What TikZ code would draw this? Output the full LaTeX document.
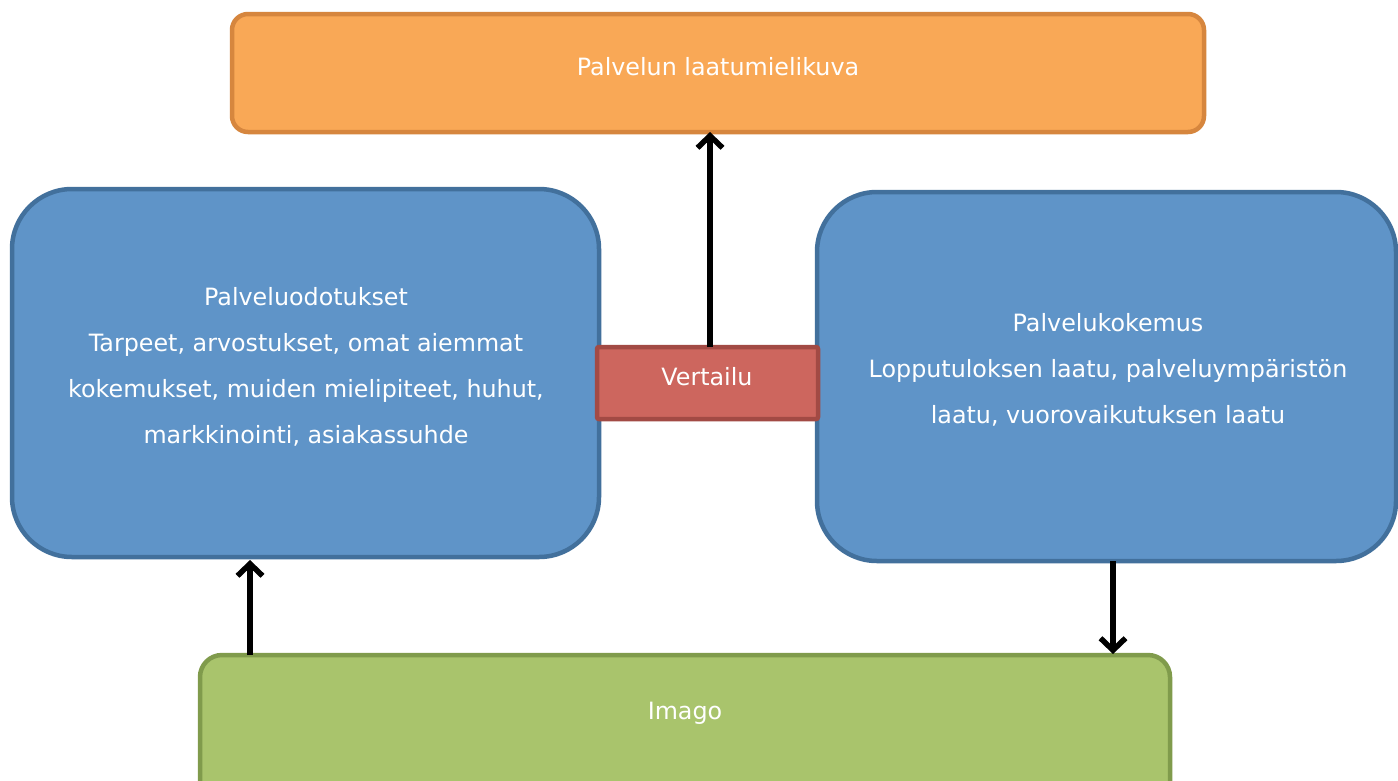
\documentclass[tikz,border=0pt]{standalone}
\usepackage{fontspec}
\setmainfont{DejaVu Sans}
\usetikzlibrary{arrows.meta}
\definecolor{orfill}{RGB}{249,168,86}
\definecolor{ordraw}{RGB}{214,134,62}
\definecolor{blfill}{RGB}{95,148,200}
\definecolor{bldraw}{RGB}{66,112,156}
\definecolor{rdfill}{RGB}{205,102,94}
\definecolor{rddraw}{RGB}{162,74,68}
\definecolor{grfill}{RGB}{169,196,108}
\definecolor{grdraw}{RGB}{128,155,76}
\tikzset{
  boxbase/.style={rectangle, line width=4.5pt, inner sep=0pt},
  orbox/.style={boxbase, fill=orfill, draw=ordraw, rounded corners=16pt},
  blbox/.style={boxbase, fill=blfill, draw=bldraw, rounded corners=60pt},
  rdbox/.style={boxbase, fill=rdfill, draw=rddraw, rounded corners=2pt},
  grbox/.style={boxbase, fill=grfill, draw=grdraw, rounded corners=22pt},
  lbl/.style={text=white, align=center, font=\fontsize{23.8}{46}\selectfont, inner sep=0pt},
  conn/.style={line width=6pt, -{Straight Barb[length=12pt,width=25pt,line width=5.5pt]}}
}
\begin{document}
\begin{tikzpicture}[x=1pt,y=-1pt]
\useasboundingbox (0,0) rectangle (1398,780);
\fill[white] (0,0) rectangle (1398,780);
% boxes
\node[orbox, minimum width=972pt, minimum height=118pt] (top) at (718,73) {};
\node[lbl] (toptext) at (718,67) {Palvelun laatumielikuva};
\node[blbox, minimum width=587pt, minimum height=368pt] (left) at (305.5,373) {};
\node[lbl] (lefttext) at (306,367)
  {Palveluodotukset\\Tarpeet, arvostukset, omat aiemmat\\kokemukset, muiden mielipiteet, huhut,\\markkinointi, asiakassuhde};
\node[blbox, minimum width=579pt, minimum height=369pt] (right) at (1106.5,376.5) {};
\node[lbl] (righttext) at (1108,370)
  {Palvelukokemus\\Lopputuloksen laatu, palveluympäristön\\laatu, vuorovaikutuksen laatu};
\node[grbox, minimum width=970pt, minimum height=170pt] (bottom) at (685,740) {};
\node[lbl] (bottomtext) at (685,713) {Imago};
\node[rdbox, minimum width=221pt, minimum height=72pt] (comp) at (707.5,383) {};
\node[lbl] (comptext) at (707,377) {Vertailu};
% connectors
\coordinate (c1s) at (710,347);
\coordinate (c1e) at (710,132);
\draw[conn] (c1s) -- (c1e);
\coordinate (c2s) at (250,655);
\coordinate (c2e) at (250,560);
\draw[conn] (c2s) -- (c2e);
\coordinate (c3s) at (1113,561);
\coordinate (c3e) at (1113,654);
\draw[conn] (c3s) -- (c3e);
\end{tikzpicture}
\end{document}
